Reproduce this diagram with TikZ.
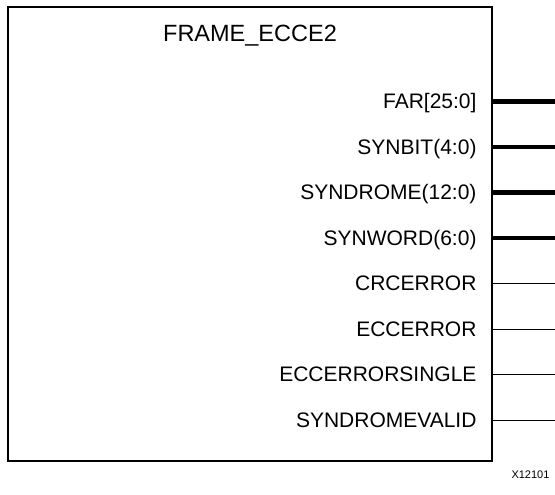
\documentclass[tikz,border=0pt]{standalone}
\usepackage{fontspec}
\setmainfont{Liberation Sans}
\begin{document}
\begin{tikzpicture}[x=1pt,y=-1pt,line width=1pt,
  port/.style={anchor=east,inner sep=0pt,text height=16pt,text depth=2pt,font=\fontsize{21}{24}\selectfont},
  bus/.style={line width=4.5pt},
  wire/.style={line width=1pt}]
 \useasboundingbox (0,0) rectangle (555,495);
 \node[draw,line width=2.6pt,outer sep=0pt,inner sep=0pt,minimum width=484pt,minimum height=454pt] (frame) at (250,234) {};
 \node[anchor=base,inner sep=0pt,font=\fontsize{23.5}{26}\selectfont] (title) at (250,41.7) {FRAME\_ECCE2};
 % output ports
 \node[port] (far) at (477,101.5) {FAR[25:0]};
 \node[port] (synbit) at (477,147) {SYNBIT(4:0)};
 \node[port] (syndrome) at (477,192.5) {SYNDROME(12:0)};
 \node[port] (synword) at (477,238) {SYNWORD(6:0)};
 \node[port] (crcerror) at (477,283.5) {CRCERROR};
 \node[port] (eccerror) at (477,329) {ECCERROR};
 \node[port] (eccsingle) at (477,374.5) {ECCERRORSINGLE};
 \node[port] (synvalid) at (477,420) {SYNDROMEVALID};
 \coordinate (far-o) at (555,101.5);
 \coordinate (synbit-o) at (555,147);
 \coordinate (syndrome-o) at (555,192.5);
 \coordinate (synword-o) at (555,238);
 \coordinate (crcerror-o) at (555,283.5);
 \coordinate (eccerror-o) at (555,329);
 \coordinate (eccsingle-o) at (555,374.5);
 \coordinate (synvalid-o) at (555,420);
 \draw[bus] (frame.east |- far) -- (far-o);
 \draw[bus] (frame.east |- synbit) -- (synbit-o);
 \draw[bus] (frame.east |- syndrome) -- (syndrome-o);
 \draw[bus] (frame.east |- synword) -- (synword-o);
 \draw[wire] (frame.east |- crcerror) -- (crcerror-o);
 \draw[wire] (frame.east |- eccerror) -- (eccerror-o);
 \draw[wire] (frame.east |- eccsingle) -- (eccsingle-o);
 \draw[wire] (frame.east |- synvalid) -- (synvalid-o);
 \node[anchor=base west,inner sep=0pt,font=\fontsize{11}{13}\selectfont] (fig) at (511,478.3) {X12101};
\end{tikzpicture}
\end{document}
